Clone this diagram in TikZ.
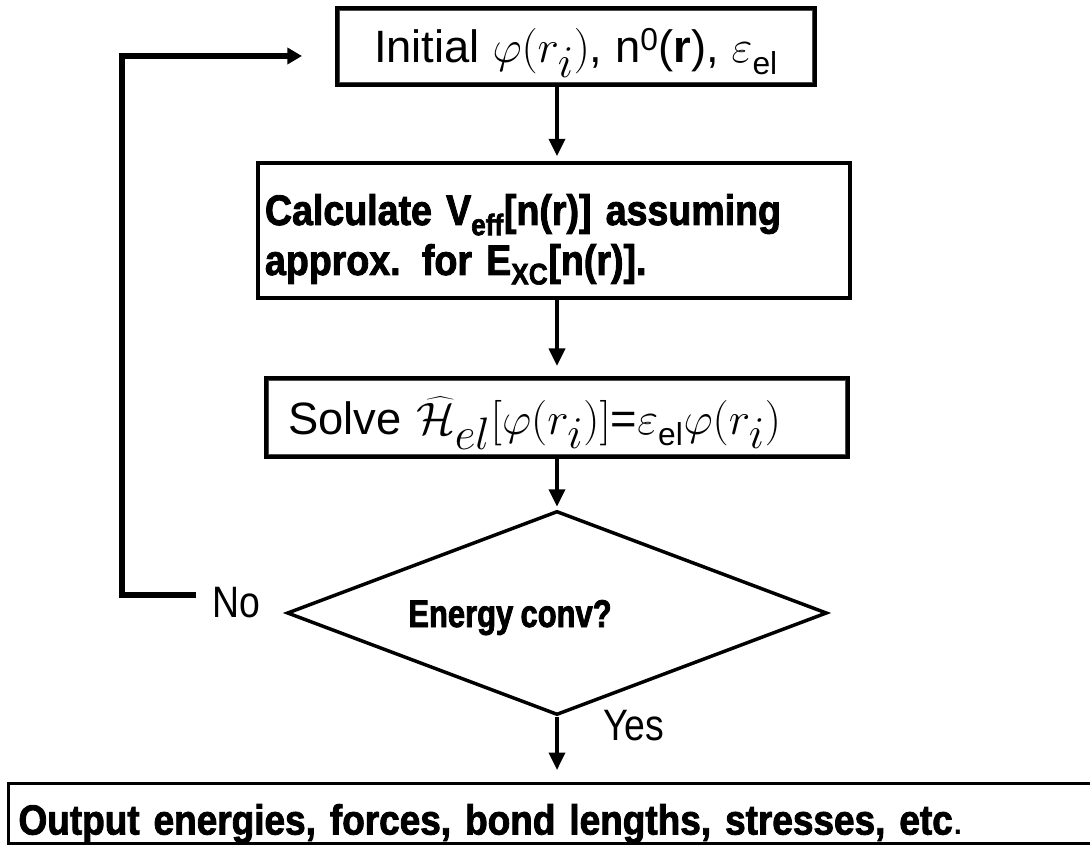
\documentclass[tikz,border=0pt]{standalone}
\usepackage{graphicx}
\usepackage{fontspec}
\setmainfont{Liberation Sans}
\newfontfamily\condfontA[FakeStretch=0.88,FakeBold=2,WordSpace=0.85]{Liberation Sans Bold}
\newfontfamily\condfontB[FakeStretch=0.88,FakeBold=2,WordSpace=0.85]{Liberation Sans Bold}
\newfontfamily\condfontC[FakeStretch=0.80,FakeBold=2,WordSpace=0.85]{Liberation Sans Bold}
\newfontfamily\narrowfont[FakeStretch=0.85]{Liberation Sans}
\newcommand\mth[1]{\scalebox{1.37}{$#1$}}
\usetikzlibrary{arrows.meta,shapes.geometric}
\begin{document}
\begin{tikzpicture}[x=0.75pt,y=-0.75pt,
  box/.style={draw,line width=2.3pt,inner sep=0pt},
  innerline/.style={line width=0.8pt,draw=black!70},
  arr/.style={line width=2.6pt,-{Triangle[length=13pt,width=12pt]}},
  loopl/.style={line width=4.3pt,-{Triangle[length=11pt,width=12pt]}},
  regtext/.style={font=\fontsize{34}{40}\selectfont},
  lbl/.style={font=\narrowfont\fontsize{33}{36}\selectfont,inner sep=0pt}]
\useasboundingbox (0,0) rectangle (1090,845);

\node[box,regtext,minimum width=358.5pt,minimum height=57.75pt,text height=24.75pt,text depth=0pt] (b1) at (576,46.5)
  {Initial \mth{\varphi(r_i)}, n\textsuperscript{0}(\textbf{r}), \mth{\varepsilon}\textsubscript{el}};
\draw[innerline] ([shift={(3pt,-3pt)}]b1.north west) rectangle ([shift={(-3pt,3pt)}]b1.south east);

\node[box,font=\condfontA\fontsize{32}{37.5}\selectfont,minimum width=444pt,minimum height=101.25pt,
      text width=433.5pt,align=left,text height=0pt,text depth=8.25pt] (b2) at (554,230.5)
  {Calculate V\textsubscript{eff}[n(r)] assuming\\approx. for E\textsubscript{XC}[n(r)].};

\node[box,regtext,minimum width=436.5pt,minimum height=59.25pt,text width=403.5pt,align=left,text height=24.75pt,text depth=0pt] (b3) at (557,417.5)
  {Solve \mth{\widehat{\mathcal{H}}_{el}[\varphi(r_i)]}=\mth{\varepsilon}\textsubscript{el}\mth{\varphi(r_i)}};
\draw[innerline] ([shift={(3pt,-3pt)}]b3.north west) rectangle ([shift={(-3pt,3pt)}]b3.south east);

\node[draw,diamond,line width=2.6pt,minimum width=405pt,minimum height=153pt,inner sep=0pt,aspect=2.65] (d) at (557,613) {};
\node[font=\condfontC\fontsize{29}{30}\selectfont,anchor=base,inner sep=0pt] (dt) at (510,627) {Energy conv?};

\node[box,font=\condfontB\fontsize{31.5}{36}\selectfont,anchor=north west,minimum width=832pt,minimum height=45pt,
      text width=817pt,align=left,text height=31.5pt,text depth=0pt] (out) at (7,782)
  {Output energies, forces, bond lengths, stresses, etc{\normalfont .}};

\node[lbl,anchor=base west] (no) at (212,617) {No};
\node[lbl,anchor=base west] (yes) at (603,740) {Yes};

\draw[arr,shorten >=4pt] (b1.south -| d.north) -- (b2.north -| d.north);
\draw[arr,shorten >=8pt] (b2.south -| d.north) -- (b3.north -| d.north);
\draw[arr,shorten >=2pt] (b3.south -| d.north) -- (d.north);
\draw[arr,shorten >=9pt] (d.south) -- (out.north -| d.south);

\coordinate (ls) at (196,595);
\coordinate (lc) at (122,595);
\coordinate (lt) at (302,56);
\draw[loopl] (ls) -- (lc) |- (lt);
\end{tikzpicture}
\end{document}
